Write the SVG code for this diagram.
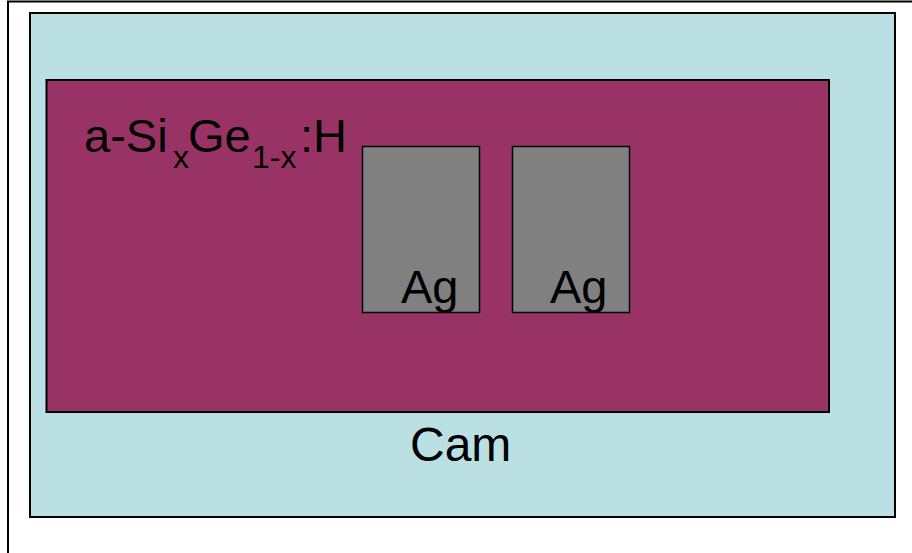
<svg xmlns="http://www.w3.org/2000/svg" width="912" height="553" viewBox="0 0 912 553">
  <style>
    .lbl { font-family: "Liberation Sans", Arial, sans-serif; fill: #000; }
    .sub { font-size: 32px; }
    .ag { fill: #808080; stroke: #000; stroke-width: 1.5; }
  </style>
  <rect width="912" height="553" fill="#fff"/>
  <!-- outer frame -->
  <path d="M8,560 V1.5 H920" fill="none" stroke="#000" stroke-width="2"/>
  <g id="cam">
    <rect x="30" y="13" width="865" height="504" fill="#bbe0e3" stroke="#000" stroke-width="2"/>
    <text class="lbl" x="410" y="461" font-size="48">Cam</text>
  </g>
  <g id="film">
    <rect x="46.5" y="80" width="782.5" height="332" fill="#993366" stroke="#000" stroke-width="2"/>
    <text class="lbl" font-size="47"><tspan x="84" y="152">a-Si</tspan><tspan class="sub" x="173" y="168">x</tspan><tspan x="188" y="152">Ge</tspan><tspan class="sub" x="252" y="168">1-x</tspan><tspan x="300" y="152">:H</tspan></text>
  </g>
  <g id="ag1">
    <rect class="ag" x="362.5" y="146.5" width="117" height="166"/>
    <text class="lbl" x="401" y="303" font-size="47">Ag</text>
  </g>
  <g id="ag2">
    <rect class="ag" x="512.5" y="146.5" width="117" height="166"/>
    <text class="lbl" x="550" y="303" font-size="47">Ag</text>
  </g>
</svg>
